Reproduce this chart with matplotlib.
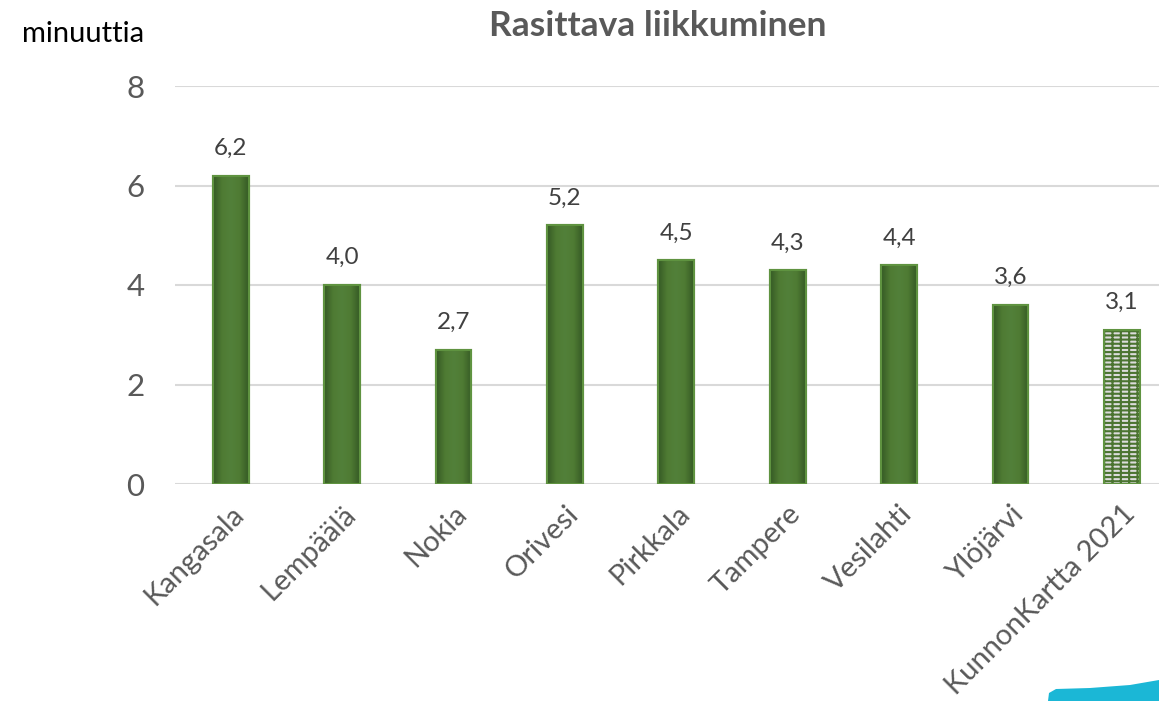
import matplotlib
matplotlib.use("Agg")
import matplotlib.pyplot as plt
import matplotlib.transforms as mtransforms
import numpy as np
from matplotlib.patches import Polygon
from matplotlib.colors import LinearSegmentedColormap

plt.rcParams['font.family'] = ['Lato', 'DejaVu Sans']
plt.rcParams['hatch.linewidth'] = 1.5

categories = ["Kangasala", "Lempäälä", "Nokia", "Orivesi", "Pirkkala",
              "Tampere", "Vesilahti", "Ylöjärvi", "KunnonKartta 2021"]
values = [6.2, 4.0, 2.7, 5.2, 4.5, 4.3, 4.4, 3.6, 3.1]
value_labels = ["6,2", "4,0", "2,7", "5,2", "4,5", "4,3", "4,4", "3,6", "3,1"]
yticks = [0, 2, 4, 6, 8]

fig = plt.figure(figsize=(11.59, 7.01), dpi=100)
ax = fig.add_axes([175/1159, 1-484/701, 1002.6/1159, 398/701])

x = np.arange(len(categories))
bars = ax.bar(x, values, width=0.32, color='#4b7431', edgecolor='#5f9340',
              linewidth=1.5, zorder=3)

cmap = LinearSegmentedColormap.from_list('g', ['#355a25', '#4f7b33', '#52803a', '#4f7b33', '#355a25'])
grad = np.linspace(0, 1, 64).reshape(1, -1)
for i, b in enumerate(bars):
    x0, y0 = b.get_x(), b.get_y()
    w, h = b.get_width(), b.get_height()
    if i < len(bars) - 1:
        im = ax.imshow(grad, cmap=cmap, aspect='auto', extent=[x0, x0 + w, y0, y0 + h],
                       zorder=3.5, interpolation='bicubic')
        im.set_clip_path(b)
    else:
        b.set_facecolor('#dcdcdc')
        b.set_edgecolor('#4b7431')
        b.set_linewidth(0)
        b.set_hatch('-' * 4 + '|' * 2)
    ax.bar(x0 + w/2, h, width=w, fill=False, edgecolor='#5f9340', linewidth=1.5, zorder=4)

for xi, v, lab in zip(x, values, value_labels):
    ax.annotate(lab, (xi, v), xytext=(0, 12), textcoords='offset points',
                ha='center', va='bottom', fontsize=17.5, color='#404040')

ax.set_xlim(-0.5, len(categories) - 0.5)
ax.set_ylim(0, 8)
ax.set_yticks(yticks)
ax.set_yticklabels([str(t) for t in yticks], fontsize=22.5, color='#595959')
ax.set_xticks(x)
ax.set_xticklabels(categories, rotation=45, ha='right', rotation_mode='anchor',
                   fontsize=21, color='#595959')
shift = mtransforms.ScaledTranslation(-8/100, -5/100, fig.dpi_scale_trans)
for lbl in ax.get_xticklabels():
    lbl.set_transform(lbl.get_transform() + shift)
ax.tick_params(axis='both', length=0)
ax.tick_params(axis='y', pad=22)
ax.tick_params(axis='x', pad=12)
for s in ax.spines.values():
    s.set_visible(False)
ax.yaxis.grid(True, color='#d9d9d9', linewidth=1.5, zorder=0)
ax.set_axisbelow(True)

fig.text(658/1159, 1-26/701, "Rasittava liikkuminen", ha='center', va='center',
         fontsize=25.5, fontweight='bold', color='#595959')
fig.text(22/1159, 1-34/701, "minuuttia", ha='left', va='center', fontsize=21,
         color='#000000')

# decorative blue swoosh in bottom-right corner
pts = [(1048, 701), (1049, 693), (1056, 689), (1090, 688), (1130, 685), (1159, 680), (1159, 701)]
fig.patches.append(Polygon([(px/1159, 1-py/701) for px, py in pts], closed=True,
                           transform=fig.transFigure, facecolor='#1bb7d6', edgecolor='none'))

fig.savefig("out.png", dpi=100)
